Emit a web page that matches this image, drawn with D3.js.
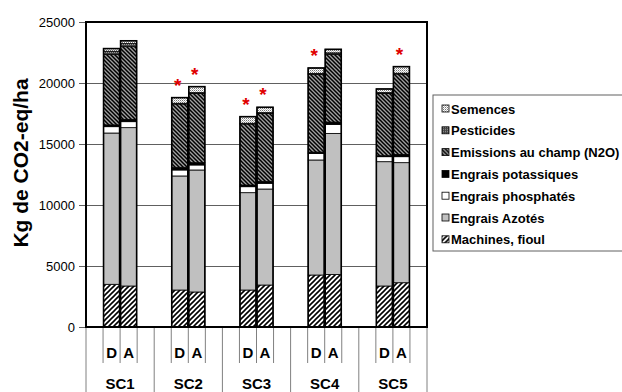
<!DOCTYPE html>
<html>
<head>
<meta charset="utf-8">
<title>Emissions GES par scénario</title>
<script src="https://d3js.org/d3.v7.min.js"></script>
<style>
  body { margin: 0; background: #fff; }
  text { font-family: "Liberation Sans", Arial, sans-serif; }
</style>
</head>
<body>
<div id="chart"></div>
<script>
// données (kg CO2-eq/ha)
var scenarios = ["SC1", "SC2", "SC3", "SC4", "SC5"];
var variantes = ["D", "A"];
var postes = ["Machines, fioul", "Engrais Azotés", "Engrais phosphatés", "Engrais potassiques",
              "Emissions au champ (N2O)", "Pesticides", "Semences"];

// une valeur par barre : SC1 D, SC1 A, SC2 D, SC2 A, ...
var machines    = [3500, 3360, 3030, 2870, 3030, 3440, 4260, 4310, 3360, 3630];
var azotes      = [12400, 12980, 9350, 10000, 7980, 7870, 9430, 11560, 10190, 9840];
var phosphates  = [520, 490, 490, 410, 490, 470, 540, 740, 410, 490];
var potassiques = [150, 190, 220, 190, 140, 160, 110, 190, 80, 190];
var emissions   = [5780, 5960, 5190, 5680, 5000, 5570, 6370, 5550, 5110, 6590];
var pesticides  = [250, 250, 60, 60, 60, 60, 80, 120, 60, 60];
var semences    = [220, 230, 460, 490, 540, 440, 440, 290, 300, 540];
// barres marquées d'une étoile rouge
var etoiles     = [false, false, true, true, true, true, true, false, false, true];

var yTicks = [0, 5000, 10000, 15000, 20000, 25000];

var width = 622, height = 392;
var mLeft = 86, mRight = 427, mTop = 22, mBottom = 327;

var svg = d3.select("#chart").append("svg")
    .attr("width", width)
    .attr("height", height);

// motifs
var defs = svg.append("defs");
function motif(id, size, fond, draw) {
  var p = defs.append("pattern").attr("id", id)
      .attr("patternUnits", "userSpaceOnUse")
      .attr("width", size).attr("height", size);
  p.append("rect").attr("width", size).attr("height", size).attr("fill", fond);
  draw(p);
}
motif("p-machines", 5, "#fff", function (p) {
  p.append("path").attr("d", "M-1,1 L1,-1 M0,5 L5,0 M4,6 L6,4")
    .attr("stroke", "#000").attr("stroke-width", 1.6);
});
motif("p-emissions", 4, "#a0a0a0", function (p) {
  p.append("path").attr("d", "M-1,3 L1,5 M0,0 L4,4 M3,-1 L5,1")
    .attr("stroke", "#000").attr("stroke-width", 1.5);
});
motif("p-pesticides", 2, "#444", function (p) {
  p.append("rect").attr("width", 1).attr("height", 1).attr("fill", "#999");
});
motif("p-semences", 2, "#fff", function (p) {
  p.append("rect").attr("width", 1).attr("height", 1).attr("fill", "#777");
  p.append("rect").attr("x", 1).attr("y", 1).attr("width", 1).attr("height", 1).attr("fill", "#bbb");
});
var remplissages = ["url(#p-machines)", "#c0c0c0", "#fff", "#000",
                    "url(#p-emissions)", "url(#p-pesticides)", "url(#p-semences)"];

// échelles : 4 emplacements par scénario (vide, D, A, vide)
var slots = [];
scenarios.forEach(function (s) { slots.push(s + "_g", s + "_D", s + "_A", s + "_d"); });
var x = d3.scaleBand().domain(slots).range([mLeft, mRight]);
var y = d3.scaleLinear().domain([0, 25000]).range([mBottom, mTop]);

// quadrillage
svg.append("g")
    .attr("transform", "translate(" + mLeft + ",0)")
    .call(d3.axisLeft(y).tickValues(yTicks).tickSize(-(mRight - mLeft)).tickFormat(""))
    .call(function (g) { g.select(".domain").remove(); })
    .selectAll("line").attr("stroke", "#606060");

// axe des ordonnées
var yAxis = svg.append("g")
    .attr("transform", "translate(" + mLeft + ",0)")
    .call(d3.axisLeft(y).tickValues(yTicks).tickSize(7).tickPadding(4).tickFormat(d3.format("d")));
yAxis.select(".domain").remove();
yAxis.selectAll("line").attr("stroke", "#606060");
yAxis.selectAll("text").attr("font-size", 13).attr("fill", "#000")
    .style("font-family", "'Liberation Sans', Arial, sans-serif");

// piles
var series = [machines, azotes, phosphates, potassiques, emissions, pesticides, semences];
var barres = [];
scenarios.forEach(function (s, i) {
  variantes.forEach(function (v, j) {
    var k = i * 2 + j, o = { slot: s + "_" + v, etoile: etoiles[k] };
    postes.forEach(function (p, n) { o[p] = series[n][k]; });
    barres.push(o);
  });
});
var total = function (d) { return d3.sum(postes, function (p) { return d[p]; }); };
var stack = d3.stack().keys(postes)(barres);
var bw = x.bandwidth();

svg.append("g").selectAll("g")
  .data(stack).join("g")
    .attr("fill", function (d, n) { return remplissages[n]; })
  .selectAll("rect")
  .data(function (d) { return d; }).join("rect")
    .attr("x", function (d) { return x(d.data.slot) + 0.5; })
    .attr("width", bw - 1)
    .attr("y", function (d) { return y(d[1]); })
    .attr("height", function (d) { return y(d[0]) - y(d[1]); })
    .attr("stroke", "#000").attr("stroke-width", 0.8);

// contour des barres
svg.append("g").selectAll("rect")
  .data(barres).join("rect")
    .attr("x", function (d) { return x(d.slot) + 0.5; })
    .attr("width", bw - 1)
    .attr("y", function (d) { return y(total(d)); })
    .attr("height", function (d) { return mBottom - y(total(d)); })
    .attr("fill", "none").attr("stroke", "#000").attr("stroke-width", 1.6);

// étoiles
svg.append("g").selectAll("text")
  .data(barres.filter(function (d) { return d.etoile; })).join("text")
    .attr("x", function (d) { return x(d.slot) + bw / 2 - 2; })
    .attr("y", function (d) { return y(total(d)) - 6; })
    .attr("text-anchor", "middle")
    .attr("font-size", 19).attr("font-weight", "bold").attr("fill", "#e00000")
    .text("*");

// cadre de la zone de tracé
svg.append("path")
    .attr("d", "M" + mLeft + "," + mBottom + "V" + mTop + "H" + mRight + "V" + mBottom + "Z")
    .attr("fill", "none").attr("stroke", "#000").attr("stroke-width", 2);

// axe des catégories à deux niveaux
var bords = slots.map(function (s) { return x(s); }).concat([mRight]);
svg.append("g").selectAll("line")
  .data(bords).join("line")
    .attr("x1", function (d) { return d; }).attr("x2", function (d) { return d; })
    .attr("y1", mBottom + 1)
    .attr("y2", function (d, i) { return i % 4 === 0 ? height : 363; })
    .attr("stroke", "#808080").attr("stroke-width", 1);

svg.append("g").selectAll("text")
  .data(slots.filter(function (s) { return /_[DA]$/.test(s); })).join("text")
    .attr("x", function (d) { return x(d) + bw / 2; })
    .attr("y", 358)
    .attr("text-anchor", "middle")
    .attr("font-size", 15).attr("font-weight", "bold")
    .text(function (d) { return d.split("_")[1]; });

svg.append("g").selectAll("text")
  .data(scenarios).join("text")
    .attr("x", function (d) { return x(d + "_A"); })
    .attr("y", 389)
    .attr("text-anchor", "middle")
    .attr("font-size", 15).attr("font-weight", "bold")
    .text(function (d) { return d; });

// titre de l'axe
svg.append("text")
    .attr("transform", "translate(28,163) rotate(-90)")
    .attr("text-anchor", "middle")
    .attr("font-size", 21).attr("font-weight", "bold")
    .text("Kg de CO2-eq/ha");

// légende (ordre inverse de la pile)
var leg = svg.append("g").attr("transform", "translate(433,95)");
leg.append("rect").attr("width", 200).attr("height", 156)
    .attr("fill", "#fff").attr("stroke", "#606060");
var items = leg.selectAll("g")
  .data(postes.map(function (p, n) { return { nom: p, fill: remplissages[n] }; }).reverse())
  .join("g")
    .attr("transform", function (d, i) { return "translate(0," + (14 + i * 21.8) + ")"; });
items.append("rect")
    .attr("x", 9).attr("y", -4).attr("width", 7).attr("height", 7)
    .attr("fill", function (d) { return d.fill; })
    .attr("stroke", "#000").attr("stroke-width", 0.8);
items.append("text")
    .attr("x", 18).attr("y", 4.5)
    .attr("font-size", 13).attr("font-weight", "bold")
    .text(function (d) { return d.nom; });
</script>
</body>
</html>
